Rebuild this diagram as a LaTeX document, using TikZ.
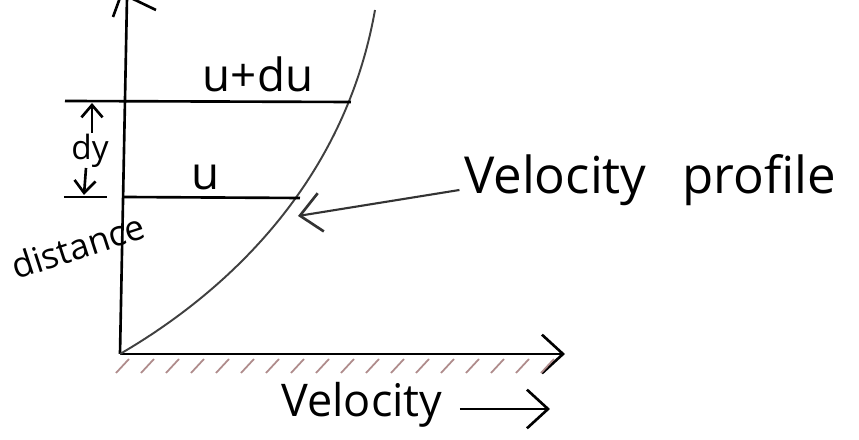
\documentclass[tikz,border=0pt]{standalone}
\usepackage{fontspec}
\setmainfont{Open Sans}
\usetikzlibrary{arrows.meta}
\begin{document}
\begin{tikzpicture}[x=0.01cm,y=-0.01cm,
  ink/.style={line width=0.75pt,black},
  curveline/.style={line width=0.55pt,black!75},
  hatch/.style={line width=0.5pt,red!30!black!45},
  lbl/.style={inner sep=0pt,font=\fontsize{12.8}{15}\selectfont},
  barb/.style={-{Straight Barb[length=6pt,width=11pt,line width=0.75pt]}}]
\useasboundingbox (0,0) rectangle (859,440);
\clip (0,0) rectangle (859,440);
\fill[white] (0,0) rectangle (859,440);
% axes
\coordinate (O) at (120,354);
\coordinate (ytop) at (127,-2);
\coordinate (xend) at (565,354);
\draw[ink] (O) -- (ytop);
\draw[ink] (113,17) -- (121,-5);
\draw[ink] (131,-2) -- (156,10);
\draw[ink,barb] (O) -- (xend);
% hatching
\foreach \x in {116,141,...,545}
  \draw[hatch] (\x,373) -- (\x+13,359);
% velocity profile curve
\draw[curveline] (O) .. controls (230,290) and (345,180) .. (375,10);
% layers
\coordinate (L1a) at (65,101);
\coordinate (L1b) at (351,102);
\coordinate (L2a) at (123,197);
\coordinate (L2b) at (300,198);
\draw[ink] (L1a) -- (L1b);
\draw[ink] (L2a) -- (L2b);
\draw[ink] (64,197) -- (107,197);
% dy arrows
\coordinate (dyu1) at (92,133);
\coordinate (dyu2) at (92,103);
\coordinate (dyd1) at (86,168);
\coordinate (dyd2) at (84,195);
\draw[ink,-{Straight Barb[length=3.5pt,width=6pt]}] (dyu1) -- (dyu2);
\draw[ink,-{Straight Barb[length=3.5pt,width=6pt]}] (dyd1) -- (dyd2);
\node[lbl,font=\fontsize{9.5}{11}\selectfont] (dy) at (90,151) {dy};
% labels
\node[lbl,font=\fontsize{13}{15}\selectfont] (udu) at (258,74) {u+du};
\node[lbl,font=\fontsize{13}{15}\selectfont] (u) at (206,178) {u};
\node[lbl,rotate=18,font=\fontsize{10}{12}\selectfont] (dist) at (78,246) {distance};
\node[lbl,font=\fontsize{14.5}{17}\selectfont] (vp) at (650,180) {Velocity\hspace{0.7em}profile};
\coordinate (vptip) at (298,216);
\draw[line width=0.6pt,black!80,barb] (vp.west) ++(-4,10) -- (vptip);
\node[lbl] (vel) at (362,405) {Velocity};
\coordinate (va) at (460,409);
\coordinate (vb) at (550,409);
\draw[ink,barb] (va) -- (vb);
\end{tikzpicture}
\end{document}
